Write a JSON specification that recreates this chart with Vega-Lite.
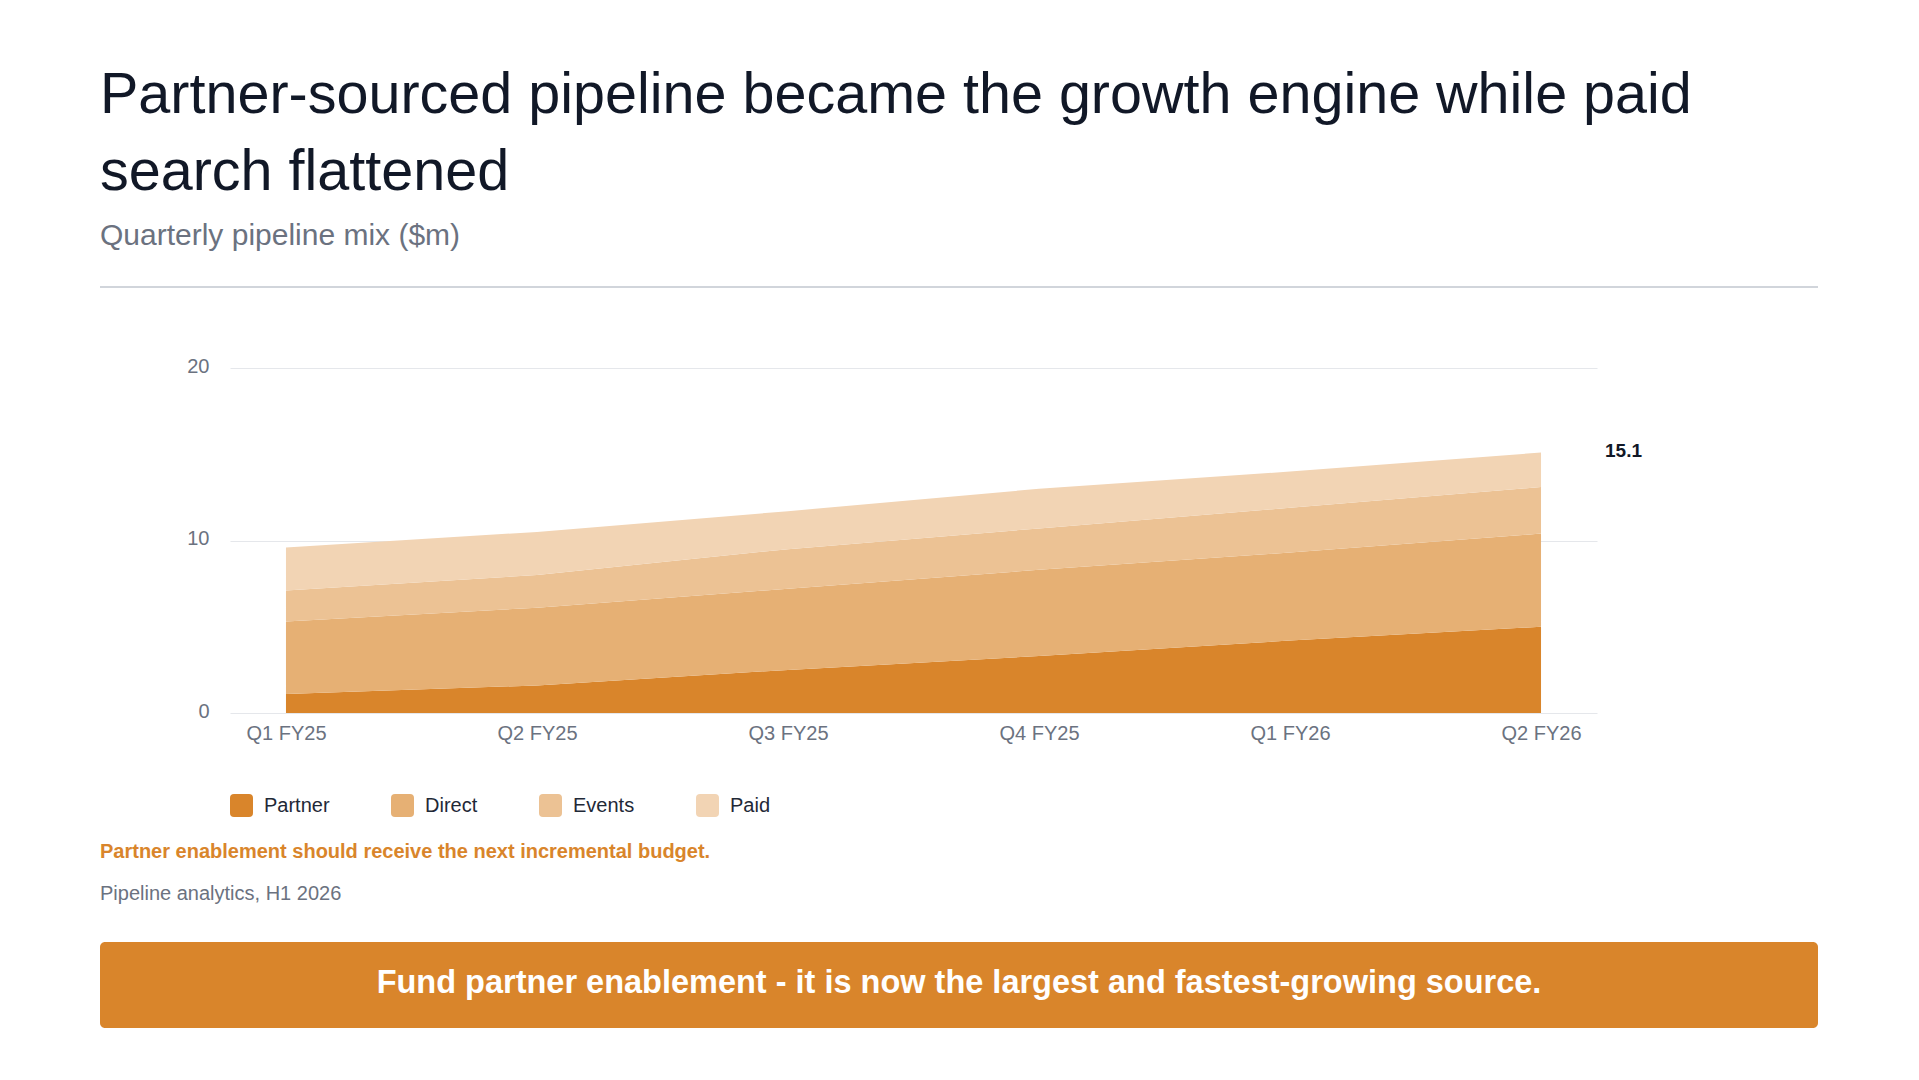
{
  "$schema": "https://vega.github.io/schema/vega-lite/v6.json",
  "background": "white",
  "padding": {"left": 100, "top": 66, "right": 100, "bottom": 52},
  "config": {
    "font": "Liberation Sans",
    "view": {"stroke": null},
    "axis": {
      "labelFont": "Liberation Sans",
      "labelFontSize": 20,
      "labelColor": "#6b7280",
      "domain": false,
      "ticks": false
    }
  },
  "title": {
    "text": ["Partner-sourced pipeline became the growth engine while paid", "search flattened"],
    "subtitle": "Quarterly pipeline mix ($m)",
    "anchor": "start",
    "font": "Liberation Sans",
    "fontSize": 57.5,
    "fontWeight": "normal",
    "color": "#111827",
    "lineHeight": 77,
    "subtitleFont": "Liberation Sans",
    "subtitleFontSize": 30,
    "subtitleColor": "#6b7280",
    "subtitlePadding": 19,
    "offset": 34
  },
  "spacing": 0,
  "resolve": {"scale": {"color": "independent"}, "legend": {"color": "independent"}},
  "vconcat": [
    {
      "width": 1718,
      "height": 2,
      "data": {"values": [{}]},
      "mark": {"type": "rect", "color": "#d1d5db"},
      "encoding": {
        "x": {"datum": 0, "type": "quantitative", "scale": {"domain": [0, 1]}, "axis": null},
        "x2": {"datum": 1}
      }
    },
    {
      "width": 1718,
      "height": 68,
      "data": {"values": [{}]},
      "mark": {"type": "text"},
      "encoding": {"text": {"value": ""}}
    },
    {
      "spacing": 0,
      "resolve": {"scale": {"color": "independent"}, "legend": {"color": "independent"}},
      "hconcat": [
        {
          "width": 86,
          "height": 1,
          "data": {"values": [{}]},
          "mark": {"type": "text"},
          "encoding": {"text": {"value": ""}}
        },
        {
          "width": 1367,
          "height": 345,
          "data": {
            "values": [
              {"quarter": "Q1 FY25", "source": "Partner", "value": 1.1},
              {"quarter": "Q1 FY25", "source": "Direct", "value": 4.2},
              {"quarter": "Q1 FY25", "source": "Events", "value": 1.8},
              {"quarter": "Q1 FY25", "source": "Paid", "value": 2.5},
              {"quarter": "Q2 FY25", "source": "Partner", "value": 1.6},
              {"quarter": "Q2 FY25", "source": "Direct", "value": 4.5},
              {"quarter": "Q2 FY25", "source": "Events", "value": 1.9},
              {"quarter": "Q2 FY25", "source": "Paid", "value": 2.5},
              {"quarter": "Q3 FY25", "source": "Partner", "value": 2.5},
              {"quarter": "Q3 FY25", "source": "Direct", "value": 4.7},
              {"quarter": "Q3 FY25", "source": "Events", "value": 2.3},
              {"quarter": "Q3 FY25", "source": "Paid", "value": 2.2},
              {"quarter": "Q4 FY25", "source": "Partner", "value": 3.3},
              {"quarter": "Q4 FY25", "source": "Direct", "value": 5.0},
              {"quarter": "Q4 FY25", "source": "Events", "value": 2.4},
              {"quarter": "Q4 FY25", "source": "Paid", "value": 2.3},
              {"quarter": "Q1 FY26", "source": "Partner", "value": 4.2},
              {"quarter": "Q1 FY26", "source": "Direct", "value": 5.1},
              {"quarter": "Q1 FY26", "source": "Events", "value": 2.6},
              {"quarter": "Q1 FY26", "source": "Paid", "value": 2.1},
              {"quarter": "Q2 FY26", "source": "Partner", "value": 5.0},
              {"quarter": "Q2 FY26", "source": "Direct", "value": 5.4},
              {"quarter": "Q2 FY26", "source": "Events", "value": 2.7},
              {"quarter": "Q2 FY26", "source": "Paid", "value": 2.0}
            ]
          },
          "encoding": {
            "x": {
              "field": "quarter",
              "type": "ordinal",
              "sort": ["Q1 FY25", "Q2 FY25", "Q3 FY25", "Q4 FY25", "Q1 FY26", "Q2 FY26"],
              "scale": {"type": "point", "padding": 0.223},
              "axis": {"labelAngle": 0, "labelPadding": 10, "title": null, "grid": false}
            }
          },
          "layer": [
            {
              "transform": [
                {"calculate": "indexof(['Partner', 'Direct', 'Events', 'Paid'], datum.source)", "as": "stack_rank"}
              ],
              "mark": {"type": "area", "interpolate": "linear", "opacity": 1},
              "encoding": {
                "y": {
                  "field": "value",
                  "type": "quantitative",
                  "stack": "zero",
                  "scale": {"domain": [0, 20]},
                  "axis": {
                    "values": [0, 10, 20],
                    "title": null,
                    "labelPadding": 21,
                    "labelOffset": -2,
                    "grid": true,
                    "gridColor": "#e5e7eb",
                    "gridWidth": 1
                  }
                },
                "order": {"field": "stack_rank", "type": "quantitative", "sort": "ascending"},
                "color": {
                  "field": "source",
                  "type": "nominal",
                  "sort": ["Partner", "Direct", "Events", "Paid"],
                  "scale": {
                    "domain": ["Partner", "Direct", "Events", "Paid"],
                    "range": ["#d9852b", "#e6b074", "#ecc294", "#f2d4b4"]
                  },
                  "legend": {
                    "orient": "bottom",
                    "direction": "horizontal",
                    "title": null,
                    "offset": 51,
                    "symbolType": "M-0.65,-1H0.65Q1,-1 1,-0.65V0.65Q1,1 0.65,1H-0.65Q-1,1 -1,0.65V-0.65Q-1,-1 -0.65,-1Z",
                    "symbolSize": 529,
                    "symbolStrokeWidth": 0,
                    "symbolOpacity": 1,
                    "labelFontSize": 20,
                    "labelColor": "#1f2937",
                    "labelOffset": 11,
                    "columnPadding": 61
                  }
                }
              }
            },
            {
              "transform": [
                {"filter": "datum.quarter === 'Q2 FY26'"},
                {"aggregate": [{"op": "sum", "field": "value", "as": "total"}], "groupby": ["quarter"]}
              ],
              "mark": {
                "type": "text",
                "align": "left",
                "baseline": "middle",
                "dx": 64,
                "dy": -2,
                "fontSize": 19,
                "fontWeight": "bold",
                "color": "#111827"
              },
              "encoding": {
                "y": {"field": "total", "type": "quantitative"},
                "text": {"field": "total", "type": "quantitative", "format": ".1f"}
              }
            }
          ]
        }
      ]
    },
    {
      "width": 1718,
      "height": 125,
      "data": {
        "values": [
          {"kind": "note", "line": "Partner enablement should receive the next incremental budget."},
          {"kind": "source", "line": "Pipeline analytics, H1 2026"}
        ]
      },
      "encoding": {
        "x": {"datum": 0, "type": "quantitative", "scale": {"domain": [0, 1]}, "axis": null},
        "y": {
          "field": "kind",
          "type": "nominal",
          "axis": null,
          "scale": {"type": "point", "domain": ["note", "source"], "padding": 1.132, "align": 0.42}
        },
        "text": {"field": "line"}
      },
      "layer": [
        {
          "transform": [{"filter": "datum.kind === 'note'"}],
          "mark": {"type": "text", "align": "left", "baseline": "middle", "fontSize": 20, "fontWeight": "bold", "color": "#d9852b"}
        },
        {
          "transform": [{"filter": "datum.kind === 'source'"}],
          "mark": {"type": "text", "align": "left", "baseline": "middle", "fontSize": 20, "color": "#6b7280"}
        }
      ]
    },
    {
      "width": 1718,
      "height": 86,
      "data": {"values": [{"line": "Fund partner enablement - it is now the largest and fastest-growing source."}]},
      "layer": [
        {
          "mark": {"type": "rect", "color": "#d9852b", "cornerRadius": 5},
          "encoding": {
            "x": {"datum": 0, "type": "quantitative", "scale": {"domain": [0, 1]}, "axis": null},
            "x2": {"datum": 1}
          }
        },
        {
          "mark": {"type": "text", "color": "white", "fontSize": 32.5, "fontWeight": "bold", "baseline": "middle", "dy": -2},
          "encoding": {"text": {"field": "line"}}
        }
      ]
    }
  ]
}
